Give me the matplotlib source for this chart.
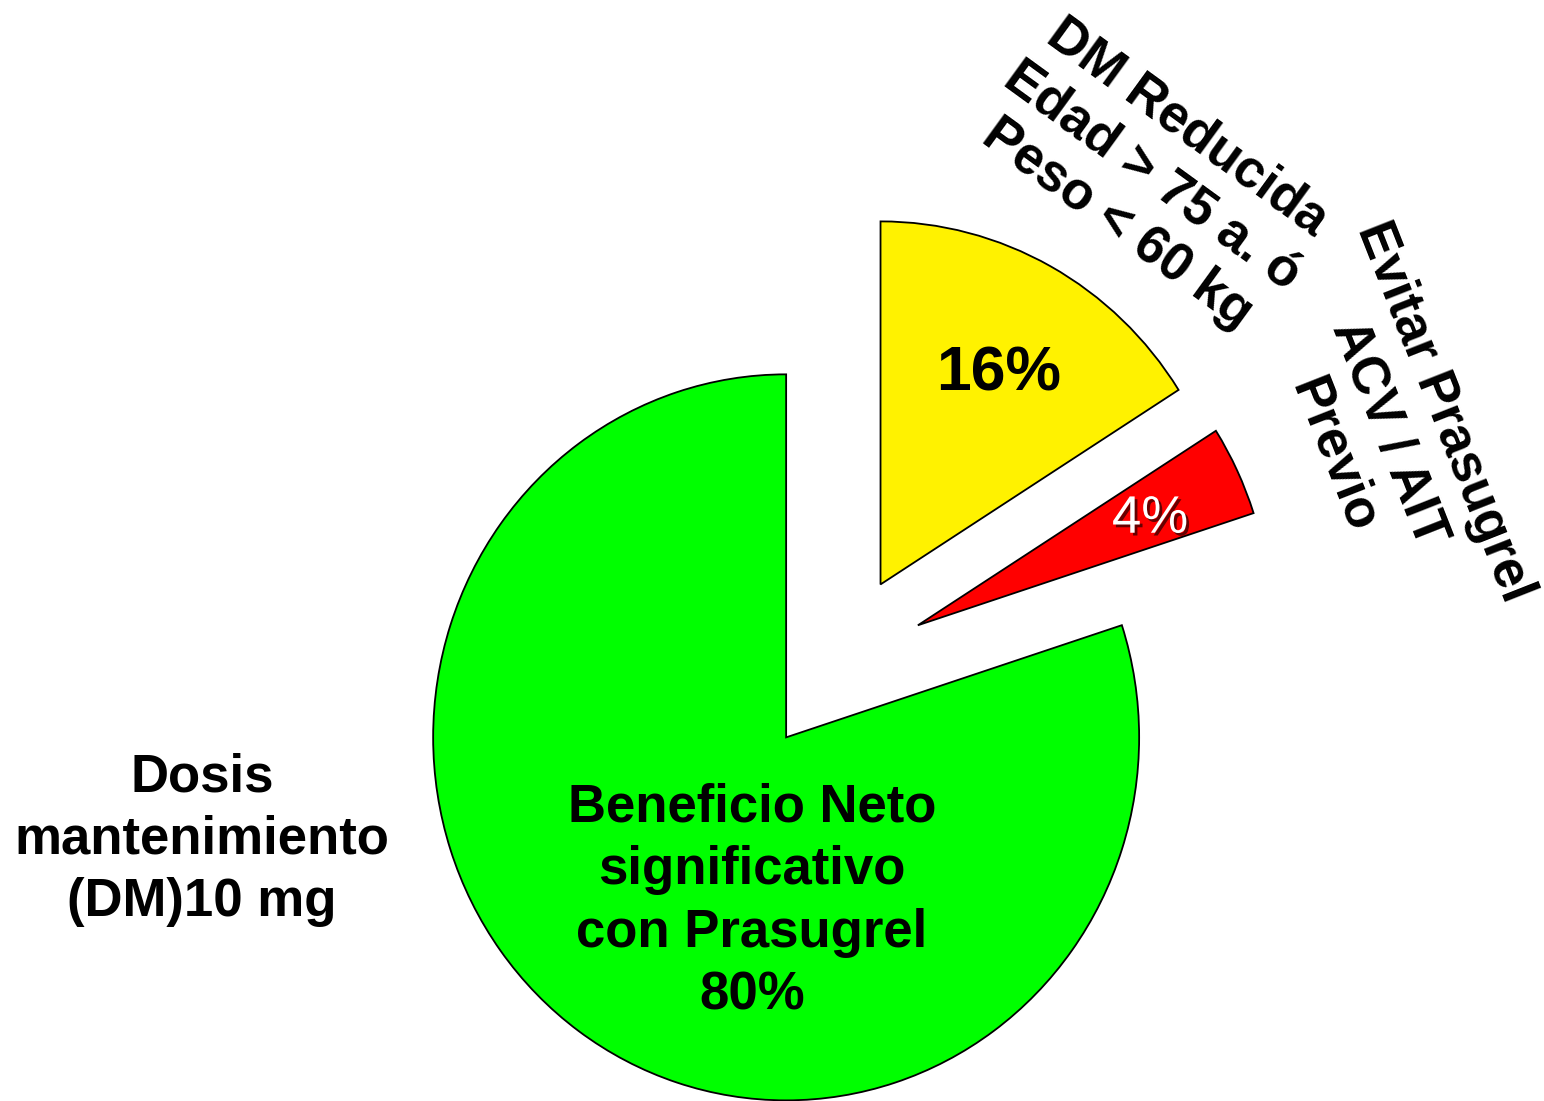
import matplotlib
matplotlib.use("Agg")
import matplotlib.pyplot as plt
import matplotlib.patheffects as pe

plt.rcParams['font.family'] = ['Liberation Sans', 'DejaVu Sans']

# slices, clockwise from 12 o'clock
shares = [16, 4, 80]
colors = ['#FFF200', '#FF0000', '#00FF00']
explode = [0.25, 0.25, 0.25]

label_yellow = "DM Reducida\nEdad > 75 a. ó\nPeso < 60 kg"
label_red = "Evitar Prasugrel\nACV / AIT\nPrevio"
label_green_in = "Beneficio Neto\nsignificativo\ncon Prasugrel\n80%"
label_green_out = "Dosis\nmantenimiento\n(DM)10 mg"

fig = plt.figure(figsize=(15.44, 11.01), dpi=100)
ax = fig.add_axes([0, 0, 1, 1])

ax.pie(shares, colors=colors, explode=explode, startangle=90,
       counterclock=False, radius=1.0,
       wedgeprops=dict(edgecolor='black', linewidth=1.3))

ax.set_aspect('auto')
ax.set_xlim(-2.374, 2.000)
ax.set_ylim(-1.204, 1.829)
ax.axis('off')

ax.text(0.456, 0.80, f"{shares[0]}%", ha='center', va='center',
        fontsize=45, fontweight='bold', color='black')
ax.text(0.884, 0.40, f"{shares[1]}%", ha='center', va='center',
        fontsize=38, color='white',
        path_effects=[pe.SimplePatchShadow(offset=(2, -2), shadow_rgbFace='black', alpha=0.6),
                      pe.Normal()])
ax.text(-0.244, -0.655, label_green_in, ha='center', va='center',
        fontsize=38, fontweight='bold', linespacing=1.32)
ax.text(-1.802, -0.485, label_green_out, ha='center', va='center',
        fontsize=38, fontweight='bold', linespacing=1.32)
ax.text(0.89, 1.345, label_yellow, ha='center', va='center', rotation=-36,
        rotation_mode='anchor', fontsize=38, fontweight='bold', linespacing=1.25)
ax.text(1.56, 0.635, label_red, ha='center', va='center', rotation=-68.5,
        rotation_mode='anchor', fontsize=38, fontweight='bold', linespacing=1.25)

fig.savefig("out.png", dpi=100)
